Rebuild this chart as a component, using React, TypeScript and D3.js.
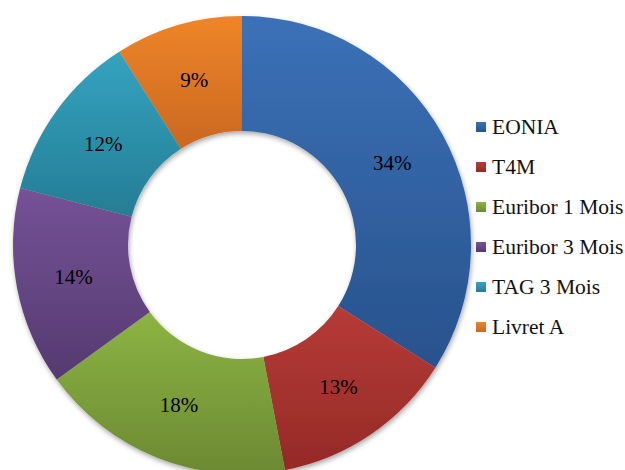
import { useMemo } from 'react'
import { arc, pie, scaleOrdinal } from 'd3'

// Répartition par indice — anneau avec dégradé vertical par part, style Excel 2007.

const categories = ['EONIA', 'T4M', 'Euribor 1 Mois', 'Euribor 3 Mois', 'TAG 3 Mois', 'Livret A']
const shares = [34, 13, 18, 14, 12, 9]
const topColors = ['#3b71b7', '#b63b37', '#8db443', '#755297', '#34a3c0', '#ef8529']
const bottomColors = ['#28528c', '#952a27', '#6b8932', '#553a70', '#257d94', '#c96820']

const WIDTH = 625
const HEIGHT = 470
const CX = 242
const CY = 245
const R_OUTER = 229
const R_INNER = 114
const FONT = "'Liberation Serif', 'Times New Roman', 'DejaVu Serif', serif"

export default function App() {
  const arcs = useMemo(
    () =>
      pie<number>()
        .sort(null)
        .value((d) => d)(shares),
    [],
  )
  const ring = arc<any>().innerRadius(R_INNER).outerRadius(R_OUTER)
  const top = scaleOrdinal<string, string>().domain(categories).range(topColors)
  const bottom = scaleOrdinal<string, string>().domain(categories).range(bottomColors)

  return (
    <svg
      width={WIDTH}
      height={HEIGHT}
      viewBox={`0 0 ${WIDTH} ${HEIGHT}`}
      style={{ position: 'absolute', left: 0, top: 0, background: '#fff' }}
    >
      <defs>
        {categories.map((c, i) => (
          <linearGradient key={c} id={`grad-${i}`} x1="0" y1="0" x2="0" y2="1">
            <stop offset="0%" stopColor={top(c)} />
            <stop offset="100%" stopColor={bottom(c)} />
          </linearGradient>
        ))}
        <filter id="shadow" x="-10%" y="-10%" width="120%" height="120%">
          <feDropShadow dx="1" dy="2.5" stdDeviation="2.5" floodColor="#000" floodOpacity="0.35" />
        </filter>
      </defs>

      <g transform={`translate(${CX}, ${CY})`}>
        <g filter="url(#shadow)">
          {arcs.map((a, i) => (
            <path key={categories[i]} d={ring(a) ?? ''} fill={`url(#grad-${i})`} />
          ))}
        </g>
        {arcs.map((a, i) => {
          const [x, y] = ring.centroid(a)
          return (
            <text
              key={categories[i]}
              x={x}
              y={y}
              dy="0.34em"
              textAnchor="middle"
              fontFamily={FONT}
              fontSize={21}
              fill="#000"
            >
              {`${shares[i]}%`}
            </text>
          )
        })}
      </g>

      <g transform="translate(476, 127)">
        {categories.map((c, i) => (
          <g key={c} transform={`translate(0, ${i * 40})`}>
            <rect x={0} y={-5} width={10} height={10} fill={`url(#grad-${i})`} />
            <text x={16} y={0} dy="0.34em" fontFamily={FONT} fontSize={21.5} fill="#111">
              {c}
            </text>
          </g>
        ))}
      </g>
    </svg>
  )
}
